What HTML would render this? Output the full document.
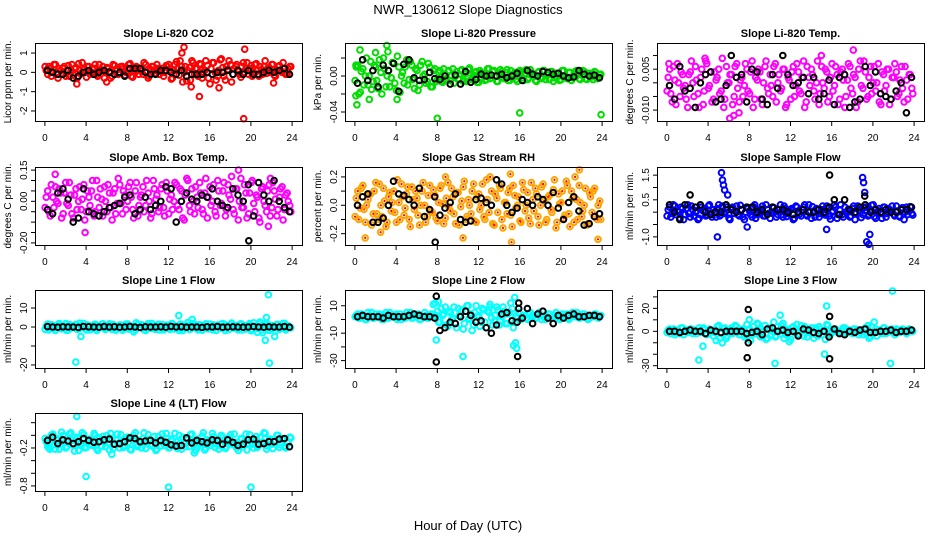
<!DOCTYPE html>
<html><head><meta charset="utf-8"><style>
html,body{margin:0;padding:0;background:#fff;}
svg{display:block;font-family:"Liberation Sans",Arial,sans-serif;}
</style></head><body>
<svg id="chart" width="936" height="540" viewBox="0 0 936 540" xmlns="http://www.w3.org/2000/svg">
<text x="468" y="14" font-size="13" text-anchor="middle">NWR_130612  Slope Diagnostics</text>
<text x="468" y="530" font-size="13" text-anchor="middle">Hour of Day (UTC)</text>
</svg>
<script>
// ---------- data ----------
const xTicks = [0,4,8,12,16,20,24];
const panelTitles = ["Slope Li-820 CO2","Slope Li-820 Pressure","Slope Li-820 Temp.","Slope Amb. Box Temp.","Slope Gas Stream RH","Slope Sample Flow","Slope Line 1 Flow","Slope Line 2 Flow","Slope Line 3 Flow","Slope Line 4 (LT) Flow"];
const yTitles = ["Licor ppm per min.","kPa per min.","degrees C per min.","degrees C per min.","percent per min.","ml/min per min.","ml/min per min.","ml/min per min.","ml/min per min.","ml/min per min."];
const yLimits = [[-2.52,1.52],[-0.05,0.0367],[-0.014,0.0146],[-0.21,0.165],[-0.28,0.27],[-1.33,1.83],[-21.6,19.5],[-35.4,21.5],[-32,36],[-0.88,0.353]];
const yTickVals = [[-2,-1,0,1],[-0.04,-0.02,0,0.02],[-0.01,-0.005,0,0.005,0.01],[-0.2,-0.15,-0.1,-0.05,0,0.05,0.1,0.15],[-0.2,-0.1,0,0.1,0.2],[-1,-0.5,0,0.5,1,1.5],[-20,-10,0,10],[-30,-20,-10,0,10],[-30,-20,-10,0,10,20,30],[-0.8,-0.6,-0.4,-0.2,0,0.2]];
const yTickLabels = [["-2","-1","0","1"],["-0.04","","0.00",""],["-0.010","","","0.005",""],["-0.20","","","","0.00","","","0.15"],["-0.2","","0.0","","0.2"],["-1.0","","","0.5","","1.5"],["-20","","0","10"],["-30","","-10","","10"],["-30","","","0","","20",""],["-0.8","","","-0.2","",""]];
const colors = ["#ff0000","#00dd00","#ff00ff","#ff00ff","#ffa500","#0000ff","#00ffff","#00ffff","#00ffff","#00ffff"];

const c1=[0.1,0.3,-0.2,0.4,0.0,0.2,-0.1,0.3,0.1,-0.2,0.4,0.2,-0.3,0.1,0.5,0.0,0.3,-0.1,0.2,0.4,-0.2,0.1,0.3,0.0,0.2,-0.3,0.4,0.1,-0.1,0.3,0.2,0.0,0.4,-0.2,0.1,0.3,-0.1,0.2,0.5,0.0,-0.2,0.3,0.1,0.4,-0.1,0.2,0.0,0.3,0.1,-0.3,0.4,0.2,0.6,-0.5,0.3,0.1,-0.4,0.5,0.2,-0.2,0.4,0.0,0.6,-0.3,0.2,0.5,-0.4,0.1,0.7,-0.2,0.3,0.6,-0.5,0.2,0.4,-0.1,0.3,0.0,0.5,0.2,-0.2,0.4,0.1,0.3,-0.1,0.6,0.2,0.0,0.4,-0.2,0.3,0.1,0.5,-0.1,0.2,0.3];
const c1b=[0.3,-0.1,0.2,0.0,0.4,-0.3,0.1,0.2,-0.2,0.35,0.05,-0.15,0.25,0.45,-0.05,0.15,-0.25,0.3,0.0,0.2,-0.1,0.4,0.1,-0.3,0.25,0.05,-0.2,0.35,0.15,-0.05,0.3,-0.15,0.2,0.45,-0.25,0.0,0.25,0.1,-0.1,0.4,-0.3,0.15,0.3,-0.05,0.2,0.05,-0.2,0.35,0.4,-0.35,0.1,0.55,-0.15,0.3,0.0,-0.45,0.25,0.6,-0.1,0.2,0.45,-0.3,0.1,0.35,-0.6,0.5,0.0,-0.2,0.65,0.25,-0.4,0.15,0.4,-0.1,0.3,0.05,-0.25,0.5,0.2,-0.1,0.35,0.0,0.45,-0.2,0.15,0.3,-0.05,0.25,0.4,-0.15,0.1,0.35,0.0,0.2,-0.1,0.3];
const k1=[0.1,0.0,-0.1,-0.1,0.1,-0.3,-0.2,0.0,0.1,-0.1,0.0,0.1,0.0,-0.1,0.0,-0.2,0.2,0.2,0.2,0.0,-0.1,-0.1,0.1,0.1,0.0,-0.1,0.1,-0.2,-0.1,-0.1,-0.1,0.0,-0.1,0.0,0.0,0.1,-0.1,0.1,-0.1,0.1,-0.1,-0.1,0.0,0.1,0.0,0.1,0.2,-0.1];
const o1x=[3.1,13.3,13.5,14.2,15.0,16.9,19.3,19.4,6.0,22.2], o1y=[-0.6,1.0,1.3,-0.75,-1.25,-0.8,-2.4,1.2,-0.5,-0.55];

const c2=[0.01,-0.02,0.005,-0.01,0.02,0.0,-0.015,0.012,-0.005,0.018,-0.02,0.008,0.0,-0.012,0.015,-0.008,0.022,-0.018,0.004,0.01,-0.01,0.016,-0.004,0.008,-0.016,0.012,0.0,-0.008,0.014,-0.012,0.006,-0.006,0.004,-0.006,0.008,-0.003,0.006,0.0,-0.008,0.005,-0.004,0.007,0.002,-0.006,0.009,-0.002,0.004,-0.007,0.006,0.001,-0.005,0.008,-0.003,0.005,0.0,-0.006,0.007,-0.002,0.004,-0.005,0.006,0.002,-0.004,0.005,0.003,-0.005,0.007,-0.002,0.004,0.0,-0.006,0.005,-0.003,0.006,0.001,-0.004,0.005,-0.002,0.003,-0.005,0.006,0.0,-0.003,0.004,-0.002,0.005,0.001,-0.004,0.006,-0.003,0.003,0.0,-0.004,0.004,-0.002,0.002];
const c2b=[-0.005,0.012,-0.018,0.008,0.0,-0.01,0.016,-0.006,0.01,-0.014,0.004,0.02,-0.012,0.006,-0.002,0.014,-0.016,0.01,0.0,-0.008,0.018,-0.004,0.012,-0.014,0.006,-0.01,0.016,0.002,-0.006,0.01,-0.012,0.008,-0.004,0.006,-0.007,0.002,0.005,-0.005,0.008,0.0,-0.003,0.006,-0.006,0.003,0.007,-0.004,0.001,0.005,-0.007,0.004,0.0,-0.004,0.008,-0.002,0.006,-0.006,0.002,0.005,-0.003,0.007,-0.005,0.001,0.004,-0.006,0.006,-0.002,0.003,-0.004,0.007,0.0,-0.005,0.004,-0.001,0.006,-0.004,0.002,0.005,-0.006,0.003,0.0,-0.004,0.006,-0.002,0.004,-0.005,0.002,0.006,-0.003,0.001,0.005,-0.004,0.003,-0.001,0.005,-0.003,0.001];
const k2=[-0.008,0.018,-0.005,0.006,-0.012,0.012,0.006,0.014,-0.017,0.013,0.018,-0.002,-0.005,-0.004,0.004,-0.003,-0.004,0.0,-0.009,0.001,-0.009,0.005,-0.007,-0.004,0.002,0.0,0.001,0.0,0.002,-0.002,0.0,0.003,-0.005,0.006,0.002,0.0,0.005,0.004,0.002,0.003,0.0,-0.002,-0.001,0.006,0.002,0.0,0.001,-0.002];
const o2x=[0.2,0.5,3.1,3.2,8.0,16.0,23.9,0.1,0.1,1.4,2.0,4.1], o2y=[-0.032,0.029,0.034,0.027,-0.047,-0.041,-0.043,-0.022,0.012,-0.026,0.026,-0.026];

const c3=[0.002,-0.004,0.006,-0.008,0.0,0.004,-0.002,-0.006,0.003,0.008,-0.005,0.001,-0.009,0.005,-0.003,0.007,-0.001,-0.007,0.004,0.002,-0.004,0.009,-0.006,0.0,0.003,-0.008,0.006,-0.002,0.001,-0.005,0.007,-0.003,0.004,-0.009,0.002,0.005,-0.006,0.0,0.008,-0.004,-0.001,0.006,-0.007,0.003,-0.002,0.005,-0.008,0.001,0.004,-0.005,0.007,-0.003,0.002,-0.009,0.006,-0.001,0.003,-0.006,0.008,-0.004,0.0,0.005,-0.007,0.002,-0.003,0.006,-0.008,0.004,0.001,-0.005,0.007,-0.002,0.003,-0.009,0.005,-0.001,0.008,-0.006,0.002,-0.004,0.006,0.0,-0.007,0.004,-0.003,0.005,-0.008,0.002,0.007,-0.005,0.001,-0.002,0.006,-0.006,0.003,-0.004];
const c3b=[-0.003,0.005,-0.007,0.001,0.007,-0.005,0.003,-0.001,-0.009,0.004,0.0,0.006,-0.004,0.002,-0.008,0.008,-0.002,0.004,-0.006,0.001,0.005,-0.003,-0.009,0.006,0.0,0.003,-0.005,0.007,-0.007,0.002,-0.001,0.005,-0.004,0.008,-0.006,0.001,0.004,-0.008,0.006,-0.002,0.003,-0.005,0.007,0.0,-0.003,0.005,-0.009,0.002,-0.006,0.006,-0.001,0.004,-0.004,0.008,-0.007,0.002,0.005,-0.003,0.0,-0.008,0.006,-0.002,0.004,-0.005,0.007,-0.001,0.003,-0.006,0.005,-0.009,0.001,0.006,-0.004,0.002,-0.007,0.008,-0.002,0.004,-0.005,0.006,0.0,-0.003,0.007,-0.008,0.003,-0.001,0.005,-0.006,0.002,0.004,-0.004,0.006,-0.007,0.001,0.003,-0.002];
const k3=[-0.001,-0.006,0.006,-0.003,-0.002,-0.009,0.0,0.003,0.004,-0.007,-0.006,-0.001,0.010,0.002,0.003,-0.007,0.005,0.004,-0.006,-0.008,0.003,-0.002,0.010,0.003,-0.001,0.0,0.002,-0.004,0.002,-0.006,-0.004,0.001,-0.008,0.002,0.003,-0.009,-0.007,-0.006,0.006,-0.001,0.004,-0.004,-0.005,-0.006,-0.003,0.0,-0.011,0.002];
const o3x=[6.1,6.5,7.0,3.7,18.1,15.0,0.2], o3y=[-0.013,-0.012,-0.011,0.009,0.012,0.01,0.007];

const c4=[0.02,-0.05,0.08,-0.03,0.0,0.06,-0.08,0.04,-0.01,0.09,-0.06,0.03,-0.04,0.07,0.01,-0.09,0.05,-0.02,0.1,-0.05,0.02,0.06,-0.07,0.0,0.08,-0.03,0.04,-0.06,0.11,-0.01,0.05,-0.04,0.07,0.02,-0.08,0.09,-0.02,0.03,-0.05,0.1,0.0,-0.06,0.06,0.03,-0.03,0.08,-0.07,0.05,0.01,-0.04,0.09,-0.02,0.06,-0.08,0.03,0.1,-0.05,0.0,0.07,-0.03,0.04,-0.06,0.11,0.02,-0.02,0.08,-0.07,0.05,-0.01,0.09,-0.04,0.03,0.12,-0.06,0.06,0.0,-0.03,0.08,-0.08,0.04,0.1,-0.05,0.02,-0.1,0.07,-0.02,0.05,-0.07,0.09,0.01,-0.04,0.06,-0.09,0.03,0.0,-0.05];
const c4b=[-0.03,0.05,-0.07,0.02,0.07,-0.01,0.04,-0.06,0.09,-0.02,0.03,-0.08,0.06,0.0,-0.04,0.08,-0.05,0.02,0.05,-0.07,0.1,-0.03,0.01,0.07,-0.05,0.04,-0.09,0.06,-0.01,0.08,-0.06,0.03,0.0,0.09,-0.04,0.05,-0.07,0.02,0.07,-0.02,0.04,-0.08,0.1,0.01,-0.05,0.06,-0.03,0.09,-0.06,0.03,0.0,0.08,-0.04,0.05,-0.09,0.11,-0.02,0.06,-0.06,0.02,0.09,-0.04,0.04,-0.08,0.07,0.0,-0.05,0.1,-0.02,0.05,-0.07,0.08,0.01,-0.04,0.06,-0.09,0.11,-0.03,0.04,-0.06,0.09,-0.01,0.03,-0.08,0.06,0.0,-0.05,0.08,-0.03,0.05,-0.07,0.02,0.07,-0.04,0.04,-0.02];
const k4=[-0.04,-0.06,0.04,0.06,0.01,-0.1,-0.08,0.06,-0.05,-0.06,-0.07,-0.05,-0.03,-0.02,-0.01,0.02,0.03,-0.06,-0.04,0.02,-0.04,-0.02,0.0,0.07,0.06,-0.1,0.0,0.04,0.01,0.0,0.03,0.02,0.06,0.0,-0.02,-0.03,0.06,0.03,0.0,0.08,-0.07,0.09,0.03,0.0,0.1,0.0,-0.03,-0.05];
const o4x=[1.0,3.9,18.8,21.7,21.9], o4y=[0.13,-0.15,0.15,-0.12,0.11];
const ko4x=[19.8], ko4y=[-0.19];

const c5=[0.05,-0.1,0.12,-0.03,0.0,0.08,-0.14,0.1,-0.06,0.15,-0.08,0.03,-0.12,0.09,0.02,-0.05,0.18,-0.1,0.06,-0.02,0.13,-0.15,0.04,0.1,-0.07,0.0,0.16,-0.12,0.07,-0.04,0.11,-0.09,0.02,0.14,-0.13,0.05,-0.01,0.12,-0.06,0.09,-0.14,0.03,0.17,-0.08,0.0,0.1,-0.11,0.06,-0.03,0.15,-0.1,0.04,0.2,-0.13,0.08,-0.05,0.12,-0.16,0.02,0.09,-0.07,0.14,-0.02,0.06,-0.12,0.11,0.0,-0.09,0.16,-0.04,0.08,-0.14,0.13,0.03,-0.1,0.07,-0.05,0.18,-0.12,0.01,0.1,-0.07,0.14,-0.15,0.05,0.2,-0.1,0.02,-0.04,0.12,-0.13,0.06,0.1,-0.08,0.0,-0.1];
const c5b=[-0.08,0.1,-0.02,0.14,-0.12,0.04,0.08,-0.06,0.16,-0.1,0.0,0.12,-0.15,0.06,-0.04,0.1,-0.12,0.02,0.15,-0.07,0.08,-0.1,0.13,-0.03,0.05,-0.14,0.1,0.0,-0.08,0.14,-0.05,0.07,-0.11,0.12,0.01,-0.09,0.16,-0.04,0.06,-0.13,0.09,-0.01,0.13,-0.1,0.04,-0.06,0.15,-0.12,0.08,0.0,-0.08,0.18,-0.05,0.1,-0.14,0.05,0.14,-0.1,0.02,-0.06,0.12,-0.15,0.07,0.0,-0.11,0.16,-0.04,0.09,-0.13,0.04,0.12,-0.08,0.0,0.15,-0.12,0.06,-0.03,0.11,-0.16,0.08,0.02,-0.09,0.17,-0.06,0.1,-0.12,0.04,0.14,-0.08,0.0,-0.14,0.09,-0.05,0.12,-0.1,0.03];
const k5=[0.0,0.06,0.08,-0.12,-0.12,-0.09,0.0,0.17,0.08,0.07,0.04,0.0,0.12,-0.08,-0.03,0.06,-0.07,-0.02,0.02,0.08,-0.1,-0.12,-0.11,0.04,0.05,0.02,0.0,0.18,0.15,0.0,-0.05,-0.02,0.04,0.02,0.0,0.06,0.04,0.0,0.09,-0.02,-0.1,0.02,0.06,-0.04,-0.14,-0.13,-0.08,-0.06];
const o5x=[1.0,2.5,15.2,23.6,21.8,8.8,15.1,10.5], o5y=[-0.23,-0.19,-0.26,-0.24,0.25,0.2,0.22,-0.23];
const ko5x=[7.8], ko5y=[-0.26];

const c6=[0.1,-0.2,0.3,-0.1,0.0,0.2,-0.3,0.15,-0.05,0.25,-0.15,0.05,-0.25,0.2,0.1,-0.1,0.3,-0.2,0.0,0.15,-0.15,0.25,-0.05,0.1,-0.3,0.2,0.05,-0.1,0.28,-0.2,0.0,0.15,-0.1,0.22,-0.25,0.08,0.12,-0.15,0.3,-0.05,0.0,0.18,-0.2,0.1,-0.1,0.25,-0.18,0.05,0.15,-0.25,0.2,-0.08,0.1,0.3,-0.15,0.0,0.22,-0.2,0.08,-0.05,0.25,-0.12,0.15,-0.28,0.05,0.2,-0.1,0.3,-0.2,0.0,0.12,-0.15,0.25,-0.05,0.1,-0.22,0.18,0.05,-0.1,0.28,-0.18,0.0,0.15,-0.25,0.2,-0.05,0.1,0.25,-0.15,0.05,-0.2,0.18,0.0,-0.1,0.22,-0.12];
const c6b=[-0.15,0.2,-0.05,0.25,0.05,-0.25,0.15,-0.1,0.3,-0.2,0.1,0.0,-0.3,0.2,0.05,-0.15,0.25,-0.05,0.1,-0.2,0.3,-0.1,0.0,0.2,-0.25,0.15,-0.05,0.25,-0.15,0.1,-0.3,0.2,0.05,-0.2,0.3,-0.1,0.0,0.25,-0.15,0.1,-0.25,0.2,0.05,-0.1,0.3,-0.2,0.15,-0.05,0.1,-0.3,0.25,0.0,-0.15,0.2,-0.1,0.3,-0.25,0.05,0.15,-0.2,0.1,-0.05,0.25,-0.15,0.0,0.3,-0.25,0.1,-0.1,0.2,0.05,-0.2,0.15,-0.3,0.25,0.0,-0.1,0.2,-0.15,0.1,0.3,-0.25,0.05,-0.05,0.2,-0.2,0.15,0.0,-0.1,0.25,-0.15,0.1,-0.3,0.2,0.05,-0.05];
const k6=[0.3,0.0,-0.3,0.3,0.7,0.2,0.3,0.0,-0.1,0.0,0.0,0.3,0.1,0.0,0.1,0.2,0.2,0.0,0.1,-0.1,0.2,0.1,0.1,0.0,-0.1,0.0,0.1,0.0,0.0,0.1,0.0,0.2,0.5,-0.1,0.5,0.1,0.0,0.2,0.3,0.0,0.1,0.0,0.1,0.0,0.0,0.1,0.1,0.2];
const o6x=[5.3,5.5,5.6,5.9,5.4,19.0,19.1,19.2,19.4,19.6,19.7,4.9,15.5,7.8], o6y=[1.6,1.1,0.9,0.7,1.3,1.4,1.2,0.8,-1.2,-1.3,-0.9,-1.0,-0.7,-0.6];
const ko6x=[15.8,19.2], ko6y=[1.5,0.65];

const c7=[0.5,-1.5,1.2,-0.8,0.0,1.8,-1.0,0.6,-1.8,1.4,-0.3,0.9,-1.2,2.0,0.2,-0.6,1.1,-1.6,0.4,1.5,-0.9,0.0,1.7,-1.3,0.8,-0.4,1.3,-1.7,0.3,1.0,-0.7,1.6,-1.1,0.5,-2.5,2.2,-0.2,1.2,-1.4,0.7,0.0,1.9,-1.0,0.4,-1.6,1.4,-0.5,0.9,-1.2,1.8,0.1,-0.8,1.5,-1.9,0.6,2.4,-1.1,0.3,1.2,-1.5,0.8,-0.3,1.7,-1.0,0.0,1.1,-1.8,0.5,1.6,-0.6,1.0,-1.3,2.1,0.2,-0.9,1.4,-1.6,0.7,-0.2,1.8,-1.2,0.4,-2.8,2.6,-3.0,1.5,-1.4,0.9,0.0,-2.0,1.3,-0.7,1.9,-1.5,0.6,-0.4];
const c7b=[-1.2,1.6,-0.4,0.9,-1.8,1.2,0.2,-0.9,1.8,-1.5,0.6,-0.2,1.4,-1.1,0.3,1.9,-1.6,0.8,-0.6,1.2,-1.9,0.5,1.5,-0.8,0.0,1.7,-1.3,0.4,-0.5,1.1,-1.7,0.9,1.6,-1.0,0.2,-1.5,1.3,-0.3,0.8,-1.9,1.8,-0.7,0.5,-1.2,1.5,0.0,-1.6,1.0,-0.4,1.7,-1.1,0.3,-1.8,1.4,-0.6,0.9,-1.3,1.9,0.1,-1.0,1.2,-1.7,0.6,-0.2,1.6,-1.4,0.4,1.0,-0.8,1.8,-1.9,0.2,1.3,-0.5,0.7,-1.5,1.7,-0.1,-1.1,1.1,-2.0,2.2,-0.9,1.5,-1.6,0.3,2.0,-1.8,0.8,-0.4,1.4,-1.2,0.6,1.9,-0.7,0.0];
const k7=[0.2,0.0,-0.1,0.1,0.0,0.0,-0.2,0.3,0.1,0.0,-0.1,0.2,0.0,0.1,-0.1,0.0,0.2,0.0,-0.2,0.1,0.0,0.0,0.1,-0.1,0.3,0.0,0.1,-0.1,0.0,0.0,-0.2,0.1,0.0,0.2,-0.1,0.0,0.1,0.0,-0.1,0.0,0.2,0.0,-0.1,0.1,0.0,0.0,0.2,-0.1];
const o7x=[3.0,3.5,13.0,21.7,21.8,21.5,21.4,22.3,14.3], o7y=[-18.5,-5,6,17,-19,5,-7,-5,4];

const c8=[3,1,4,2,0,3,5,1,2,4,0,3,1,5,2,3,0,4,2,1,3,5,1,2,4,0,2,3,1,4,2,3,-2,8,4,-4,6,0,9,-6,3,7,-3,10,1,-8,5,2,-5,8,-2,6,11,-4,3,7,-1,9,-3,4,12,-6,2,5,0,3,1,4,2,3,1,5,0,3,2,4,1,3,2,0,4,2,3,1,5,2,3,1,4,2,0,3,2,4,1,3];
const c8b=[2,4,1,3,0,5,2,1,4,3,2,0,5,1,3,2,4,1,0,3,5,2,1,4,3,0,2,5,1,3,4,2,6,-2,3,9,-5,5,1,-3,8,2,-7,6,0,4,-4,10,3,-2,7,-6,5,1,-1,9,-4,2,6,-3,5,8,-2,1,4,2,3,0,5,2,1,4,3,2,0,4,1,3,5,2,1,3,4,0,2,3,5,1,2,4,3,1,2,4,3,2];
const k8=[2,3,2,2,2,1,3,2,2,2,3,4,3,2,2,1,-8,-6,-2,-3,2,6,3,-2,-1,-6,-10,-4,4,5,-1,-2,1,8,-3,4,6,1,-3,3,1,3,4,2,2,3,3,2];
const o8x=[7.6,7.8,8.1,7.9,10.5,15.5,15.6,15.4,15.7,11.0,13.1], o8y=[11,12,13,-15,-27,16,-17,-19,-21,10,9];
const ko8x=[7.9,7.9,15.8,15.9,15.9], ko8y=[17,-31,-27,12,8];

const c9=[1,-2,2,-1,0,3,-3,1,-1,2,0,-2,3,-1,1,-3,2,0,-1,4,-6,-10,3,-4,1,-2,5,-1,0,2,-3,1,-8,4,-2,6,-5,1,-7,3,-3,8,-4,0,5,-6,2,-9,3,-1,6,-3,0,4,-5,1,-2,3,-4,2,0,-7,5,-3,1,2,-1,0,3,-2,1,-1,2,0,-3,1,2,-2,-6,4,8,-4,1,-2,3,-1,0,2,-3,1,-1,2,0,-1,1,0];
const c9b=[-1,2,0,-3,1,-2,3,0,-1,2,-2,1,0,-1,3,-2,1,0,-4,-8,5,-2,2,-6,0,3,-1,4,-3,1,-5,6,2,-3,0,7,-4,-1,5,-6,2,0,-5,4,-2,7,-3,1,-7,4,0,-2,5,-4,2,-1,3,-6,1,4,-3,0,6,-2,-1,2,0,-2,1,3,-1,0,-2,2,1,-1,-3,3,5,-5,-2,2,0,-1,3,-2,1,0,-1,2,-1,0,1,-2,2,1];
const k9=[0,0,-1,0,1,0,0,-2,1,0,-1,0,0,0,0,-2,-1,0,-3,2,3,0,1,-1,0,-4,2,1,-1,-2,0,-5,2,-2,-3,0,-1,1,2,-1,-1,0,0,1,-1,0,0,1];
const o9x=[3.1,10.5,15.3,15.5,21.9,21.7,3.5,8.0,11.0], o9y=[-25,-28,-20,22,35,-28,-13,10,14];
const ko9x=[7.9,7.9,15.8,15.8,7.8], ko9y=[19,-10,13,-24,-23];

const c10=[-0.1,-0.2,0.0,-0.15,-0.05,-0.22,0.05,-0.12,-0.18,0.02,-0.08,-0.25,-0.03,-0.14,0.04,-0.2,-0.1,-0.06,-0.16,0.0,-0.24,-0.09,-0.02,-0.18,-0.12,0.03,-0.21,-0.07,-0.13,0.01,-0.19,-0.04,-0.11,-0.23,0.0,-0.15,-0.08,-0.2,0.04,-0.13,-0.06,-0.17,-0.02,-0.22,-0.1,0.02,-0.16,-0.05,-0.19,-0.09,0.03,-0.21,-0.12,-0.03,-0.18,-0.07,0.01,-0.14,-0.24,-0.06,-0.11,0.04,-0.2,-0.1,-0.16,-0.02,-0.13,-0.22,0.0,-0.08,-0.18,-0.04,-0.12,0.02,-0.2,-0.15,-0.06,-0.1,-0.23,0.01,-0.14,-0.08,-0.19,-0.03,-0.11,0.03,-0.17,-0.06,-0.21,-0.1,0.0,-0.15,-0.07,-0.2,-0.12,-0.04];
const c10b=[-0.05,-0.18,-0.12,0.02,-0.22,-0.08,-0.15,0.0,-0.2,-0.1,0.04,-0.16,-0.06,-0.24,-0.12,0.01,-0.19,-0.09,-0.14,0.03,-0.21,-0.04,-0.17,-0.11,0.0,-0.23,-0.07,-0.13,0.02,-0.2,-0.1,-0.16,-0.03,-0.22,-0.08,0.04,-0.18,-0.12,-0.05,-0.21,0.01,-0.14,-0.09,-0.24,-0.02,-0.17,-0.11,0.03,-0.2,-0.06,-0.15,-0.1,0.0,-0.22,-0.13,-0.04,-0.18,0.02,-0.09,-0.2,-0.14,-0.01,-0.23,-0.07,-0.12,0.03,-0.19,-0.1,-0.16,-0.03,-0.21,-0.08,0.01,-0.15,-0.11,-0.24,-0.05,-0.18,0.02,-0.13,-0.09,-0.2,-0.02,-0.16,-0.12,0.04,-0.22,-0.07,-0.14,-0.1,0.0,-0.19,-0.06,-0.17,-0.11,-0.03];
const k10=[-0.08,-0.03,-0.13,-0.07,-0.09,-0.13,-0.1,-0.05,-0.08,-0.11,-0.1,-0.07,-0.06,-0.14,-0.13,-0.1,-0.04,-0.05,-0.1,-0.09,-0.08,-0.12,-0.08,-0.11,-0.15,-0.17,-0.16,-0.04,-0.12,-0.08,-0.1,-0.12,-0.07,-0.08,-0.14,-0.07,-0.11,-0.16,-0.14,-0.07,-0.06,-0.14,-0.13,-0.1,-0.1,-0.06,-0.05,-0.18];
const o10x=[3.1,4.0,12.0,20.0,6.5,0.5,14.5], o10y=[0.3,-0.65,-0.82,-0.82,-0.3,-0.22,-0.28];

const colSeries=[c1,c2,c3,c4,c5,c6,c7,c8,c9,c10];
const colSeriesB=[c1b,c2b,c3b,c4b,c5b,c6b,c7b,c8b,c9b,c10b];
const blackSeries=[k1,k2,k3,k4,k5,k6,k7,k8,k9,k10];
const outX=[o1x,o2x,o3x,o4x,o5x,o6x,o7x,o8x,o9x,o10x];
const outY=[o1y,o2y,o3y,o4y,o5y,o6y,o7y,o8y,o9y,o10y];
const kOutX=[[],[],[],ko4x,ko5x,ko6x,[],ko8x,ko9x,[]];
const kOutY=[[],[],[],ko4y,ko5y,ko6y,[],ko8y,ko9y,[]];

// ---------- drawing ----------
const NS="http://www.w3.org/2000/svg";
const svg=document.getElementById("chart");
const colLeft=[35,345,657], rowTop=[43,167,290,413], PW=267, PH=78;
function mk(tag,attrs,parent){const e=document.createElementNS(NS,tag);for(const k in attrs)e.setAttribute(k,attrs[k]);(parent||svg).appendChild(e);return e;}

for(let p=0;p<10;p++){
  const L=colLeft[p%3], T=rowTop[Math.floor(p/3)], B=T+PH;
  const [y0,y1]=yLimits[p];
  const xs=v=>L+(v+0.96)/25.92*PW;
  const ys=v=>B-(v-y0)/(y1-y0)*PH;
  const g=mk("g",{});
  
  
  const pts=mk("g",{},g);
  
  
  function dot(x,y,color,name){
    const c=mk("circle",{cx:xs(x).toFixed(1),cy:ys(y).toFixed(1),r:2.8,fill:"none",stroke:color,"stroke-width":2},pts);
    
    
    if(p===4&&color!=="#000"){const d=mk("circle",{cx:xs(x).toFixed(1),cy:ys(y).toFixed(1),r:1.1,fill:"#ff0000"},pts);
      
      }
  }
  const cs=colSeries[p];
  cs.forEach((v,i)=>dot((i+0.5)*24/cs.length,v,colors[p],'color-point'));
  const cb=colSeriesB[p];
  cb.forEach((v,i)=>dot((i+0.1)*24/cb.length,v,colors[p],'color-point'));
  outX[p].forEach((x,i)=>dot(x,outY[p][i],colors[p],'outlier-point'));
  const ks=blackSeries[p];
  ks.forEach((v,i)=>dot((i+0.5)*24/ks.length,v,"#000",'hourly-point'));
  kOutX[p].forEach((x,i)=>dot(x,kOutY[p][i],"#000",'hourly-outlier-point'));
  const box=mk("rect",{x:L+0.5,y:T+0.5,width:PW,height:PH,fill:"none",stroke:"#000","stroke-width":1},g);
  
  
  const t=mk("text",{x:L+PW/2,y:T-6,"font-size":11,"font-weight":"bold","text-anchor":"middle"},g);
  t.textContent=panelTitles[p];
  
  
  xTicks.forEach(v=>{
    const x=xs(v);
    const tk=mk("line",{x1:x,x2:x,y1:B+1,y2:B+5,stroke:"#000"},g);
    
    
    const lb=mk("text",{x:x,y:B+20,"font-size":10,"text-anchor":"middle"},g);
    lb.textContent=v;
    
    
  });
  yTickVals[p].forEach((v,i)=>{
    const y=ys(v);
    const tk=mk("line",{x1:L-4,x2:L,y1:y,y2:y,stroke:"#000"},g);
    
    
    const s=yTickLabels[p][i];
    if(s){const lb=mk("text",{x:0,y:0,"font-size":10,"text-anchor":"middle",transform:`translate(${L-8},${y}) rotate(-90)`},g);
      lb.textContent=s;
      
      }
  });
  const yt=mk("text",{x:0,y:0,"font-size":10,"text-anchor":"middle",transform:`translate(${L-24},${T+PH/2}) rotate(-90)`},g);
  yt.textContent=yTitles[p];
  
  
}
</script>
</body></html>
